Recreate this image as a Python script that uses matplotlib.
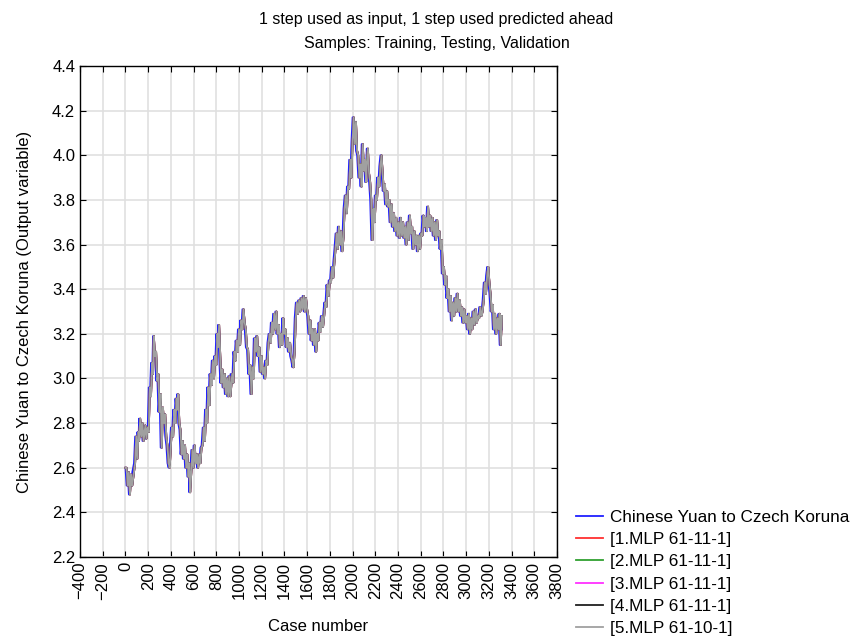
import numpy as np
import matplotlib
matplotlib.use("Agg")
import matplotlib.pyplot as plt

plt.rcParams['font.family'] = ['Liberation Sans', 'DejaVu Sans']

case_no = [0, 10, 20, 30, 40, 50, 60, 75, 85, 95, 105, 115, 120, 130, 140, 150, 160, 175, 185, 195,
           205, 215, 225, 235, 243, 250, 260, 270, 280, 290, 300, 310, 320, 330, 340, 350, 360, 370, 380, 390,
           400, 410, 420, 430, 440, 450, 455, 465, 475, 485, 495, 505, 515, 525, 535, 545, 555, 562, 570, 580,
           590, 600, 610, 620, 630, 640, 650, 660, 670, 680, 690, 700, 710, 720, 730, 740, 750, 760, 770, 780,
           790, 800, 810, 815, 825, 835, 845, 855, 865, 875, 885, 895, 905, 915, 925, 940, 950, 960, 970, 980,
           990, 1000, 1010, 1020, 1030, 1040, 1050, 1060, 1070, 1080, 1090, 1100, 1110, 1120, 1130, 1140, 1150, 1160, 1170, 1180,
           1190, 1200, 1210, 1220, 1230, 1240, 1250, 1260, 1270, 1280, 1290, 1300, 1310, 1320, 1330, 1340, 1350, 1360, 1370, 1380,
           1390, 1400, 1410, 1420, 1430, 1440, 1450, 1460, 1470, 1480, 1490, 1500, 1510, 1520, 1530, 1540, 1550, 1560, 1570, 1580,
           1590, 1600, 1610, 1620, 1630, 1640, 1650, 1660, 1670, 1680, 1690, 1700, 1710, 1720, 1730, 1740, 1750, 1760, 1770, 1780,
           1790, 1800, 1810, 1820, 1830, 1840, 1850, 1860, 1870, 1880, 1890, 1900, 1910, 1920, 1930, 1940, 1950, 1960, 1970, 1980,
           1990, 2000, 2010, 2020, 2030, 2040, 2050, 2060, 2070, 2080, 2090, 2100, 2110, 2120, 2125, 2135, 2145, 2155, 2165, 2175,
           2185, 2195, 2205, 2215, 2225, 2235, 2245, 2255, 2265, 2275, 2285, 2295, 2305, 2315, 2325, 2335, 2345, 2355, 2365, 2375,
           2385, 2395, 2405, 2415, 2425, 2435, 2445, 2455, 2465, 2475, 2485, 2495, 2505, 2515, 2525, 2535, 2545, 2555, 2565, 2575,
           2585, 2595, 2605, 2615, 2625, 2635, 2645, 2655, 2665, 2675, 2685, 2695, 2705, 2715, 2725, 2735, 2745, 2755, 2765, 2775,
           2785, 2795, 2805, 2815, 2825, 2835, 2845, 2855, 2865, 2875, 2885, 2895, 2905, 2915, 2925, 2935, 2945, 2955, 2965, 2975,
           2985, 2995, 3005, 3015, 3025, 3035, 3045, 3055, 3065, 3075, 3085, 3095, 3105, 3115, 3125, 3135, 3145, 3155, 3165, 3175,
           3185, 3195, 3205, 3215, 3225, 3235, 3245, 3255, 3265, 3275, 3285, 3295, 3305, 3315]

observed = [2.60, 2.52, 2.58, 2.48, 2.57, 2.52, 2.58, 2.62, 2.74, 2.64, 2.76, 2.72, 2.82, 2.74, 2.80, 2.72, 2.79, 2.73, 2.78, 2.76,
            2.96, 2.92, 3.07, 3.02, 3.19, 3.10, 3.12, 2.99, 3.02, 2.85, 2.93, 2.69, 2.87, 2.80, 2.84, 2.74, 2.70, 2.62, 2.60, 2.70,
            2.78, 2.74, 2.86, 2.80, 2.91, 2.86, 2.93, 2.80, 2.77, 2.66, 2.72, 2.64, 2.70, 2.60, 2.66, 2.56, 2.62, 2.49, 2.58, 2.68,
            2.60, 2.70, 2.62, 2.66, 2.60, 2.66, 2.62, 2.69, 2.70, 2.78, 2.72, 2.86, 2.80, 2.96, 2.88, 3.02, 2.97, 3.08, 3.00, 3.10,
            3.06, 3.20, 3.14, 3.24, 3.10, 2.98, 3.04, 2.96, 3.02, 2.93, 3.00, 2.92, 3.01, 2.92, 3.02, 2.98, 3.12, 3.08, 3.17, 3.12,
            3.22, 3.15, 3.26, 3.22, 3.31, 3.25, 3.22, 3.14, 3.13, 3.02, 3.06, 2.93, 3.05, 3.00, 3.18, 3.12, 3.19, 3.10, 3.14, 3.03,
            3.10, 3.02, 3.05, 3.00, 3.08, 3.06, 3.16, 3.20, 3.16, 3.25, 3.20, 3.29, 3.22, 3.30, 3.20, 3.24, 3.14, 3.20, 3.15, 3.27,
            3.20, 3.22, 3.14, 3.18, 3.12, 3.16, 3.10, 3.08, 3.05, 3.12, 3.27, 3.34, 3.29, 3.35, 3.30, 3.36, 3.31, 3.37, 3.30, 3.36,
            3.31, 3.28, 3.20, 3.26, 3.17, 3.22, 3.15, 3.22, 3.12, 3.20, 3.17, 3.25, 3.21, 3.28, 3.23, 3.28, 3.34, 3.32, 3.42, 3.37,
            3.44, 3.43, 3.50, 3.45, 3.52, 3.58, 3.65, 3.58, 3.68, 3.60, 3.66, 3.57, 3.63, 3.76, 3.82, 3.74, 3.86, 3.85, 3.98, 3.90,
            4.06, 4.17, 4.05, 4.15, 4.02, 4.00, 3.90, 3.96, 3.86, 4.05, 3.93, 3.98, 3.88, 3.96, 4.03, 3.92, 3.88, 3.80, 3.62, 3.76,
            3.70, 3.82, 3.80, 3.90, 3.86, 3.95, 4.00, 3.92, 3.84, 3.87, 3.78, 3.84, 3.77, 3.80, 3.70, 3.78, 3.68, 3.74, 3.66, 3.72,
            3.64, 3.70, 3.63, 3.72, 3.64, 3.70, 3.63, 3.68, 3.60, 3.70, 3.62, 3.73, 3.65, 3.68, 3.58, 3.66, 3.60, 3.64, 3.57, 3.64,
            3.58, 3.65, 3.64, 3.73, 3.68, 3.72, 3.66, 3.77, 3.68, 3.73, 3.66, 3.72, 3.64, 3.70, 3.62, 3.71, 3.64, 3.66, 3.58, 3.62,
            3.47, 3.50, 3.42, 3.46, 3.36, 3.40, 3.30, 3.37, 3.26, 3.34, 3.28, 3.36, 3.30, 3.38, 3.30, 3.35, 3.28, 3.32, 3.25, 3.31,
            3.25, 3.28, 3.22, 3.29, 3.20, 3.27, 3.22, 3.30, 3.24, 3.31, 3.25, 3.28, 3.27, 3.32, 3.28, 3.30, 3.35, 3.43, 3.38, 3.46,
            3.50, 3.43, 3.38, 3.30, 3.33, 3.22, 3.29, 3.20, 3.27, 3.22, 3.29, 3.15, 3.28, 3.22]

labels = ["Chinese Yuan to Czech Koruna", "[1.MLP 61-11-1]", "[2.MLP 61-11-1]",
          "[3.MLP 61-11-1]", "[4.MLP 61-11-1]", "[5.MLP 61-10-1]"]
colors = ["#2020ff", "#ff3030", "#30a030", "#ff30ff", "#202020", "#a0a0a0"]

case_no = np.array(case_no)
observed = np.array(observed)
# one-step-ahead predictions follow the previous observed value
predicted = np.concatenate([observed[:1], observed[:-1]])

fig = plt.figure(figsize=(8.56, 6.39), dpi=100)
ax = fig.add_axes([0.0935, 0.1283, 0.5572, 0.7684])

ax.plot(case_no, observed, color=colors[0], lw=1.3, label=labels[0])
for i in range(1, 6):
    ax.plot(case_no, predicted, color=colors[i], lw=1.3, label=labels[i])

ax.set_xlim(-400, 3800)
ax.set_ylim(2.2, 4.4)
ax.set_xticks(np.arange(-400, 3801, 200))
ax.set_yticks(np.arange(2.2, 4.41, 0.2))
ax.set_yticklabels(["%.1f" % v for v in np.arange(2.2, 4.41, 0.2)])
ax.tick_params(axis='x', rotation=90)
ax.tick_params(direction='in', top=True, right=True, labelsize=12, length=4)
ax.grid(True, color='#e0e0e0', lw=1.2)
ax.set_axisbelow(True)
for s in ax.spines.values():
    s.set_color('black')
    s.set_linewidth(1.0)

ax.set_xlabel("Case number", fontsize=12, labelpad=14)
ax.set_ylabel("Chinese Yuan to Czech Koruna (Output variable)", fontsize=12, labelpad=14)

fig.text(0.51, 0.970, "1 step used as input, 1 step used predicted ahead", ha='center', va='center', fontsize=11.5)
fig.text(0.51, 0.932, "Samples: Training, Testing, Validation", ha='center', va='center', fontsize=11.5)

fig.legend(loc='lower left', bbox_to_anchor=(0.665, -0.006), frameon=False, fontsize=12.3,
           handlelength=1.6, handletextpad=0.4, labelspacing=0.42, borderaxespad=0)

fig.savefig("out.png", dpi=100)
